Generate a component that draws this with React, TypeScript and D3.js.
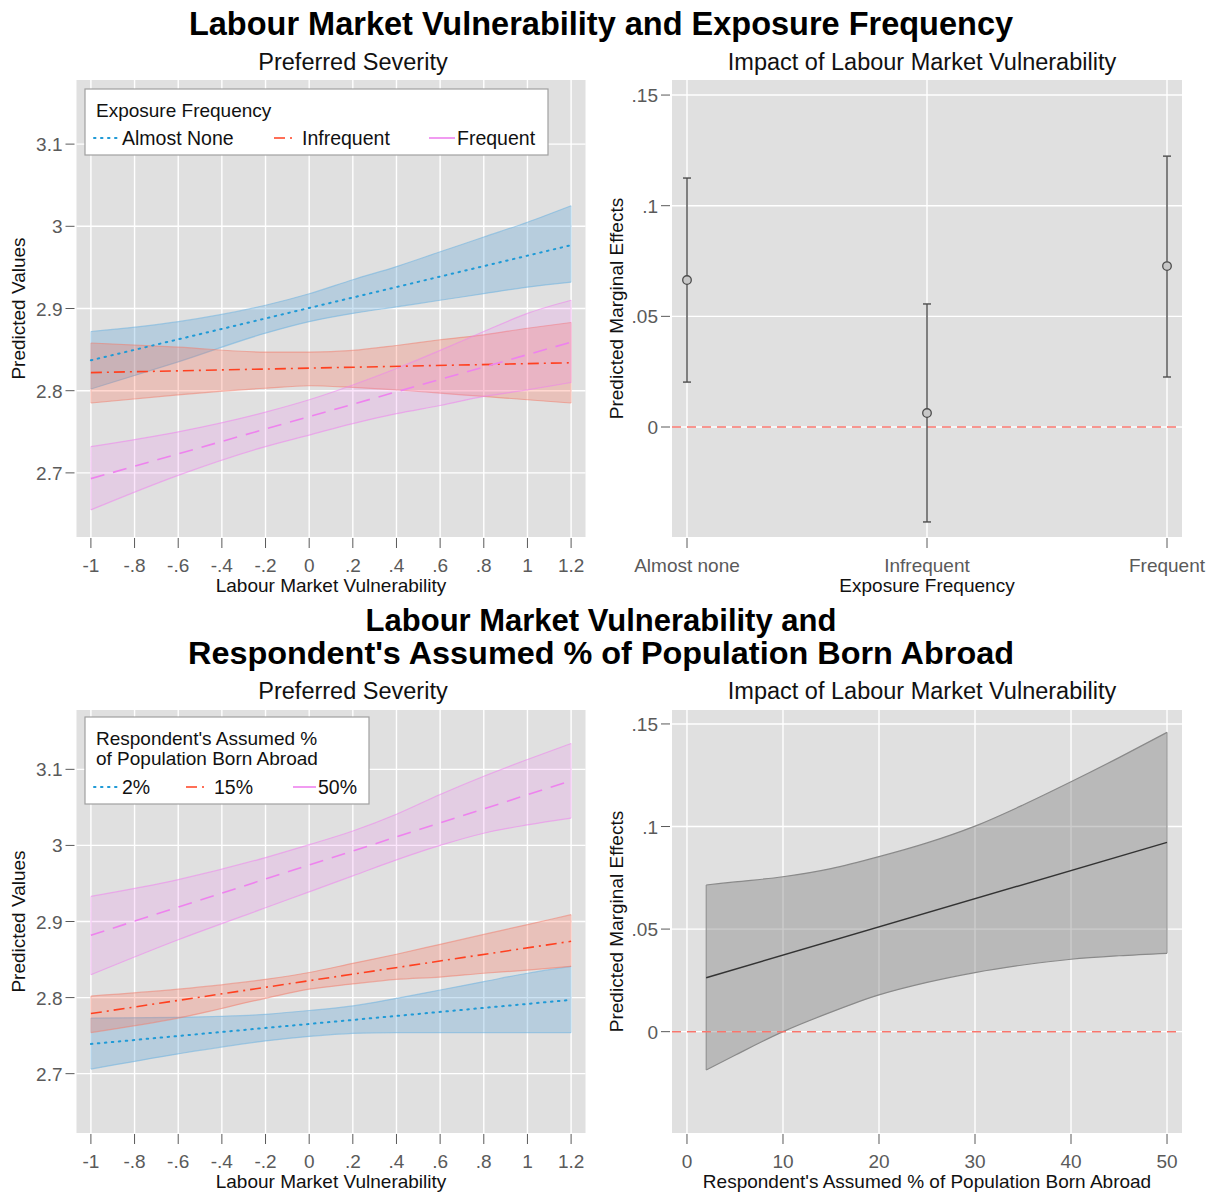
import { useEffect, useRef } from "react";
import * as d3 from "d3";

// x positions of the band samples (Labour Market Vulnerability)
const bandX = [-1, -0.6, -0.2, 0, 0.2, 0.4, 0.6, 0.8, 1, 1.2];
const lineX = [-1, 1.2];

const lmvTicks = [-1, -0.8, -0.6, -0.4, -0.2, 0, 0.2, 0.4, 0.6, 0.8, 1, 1.2];
const lmvTickLabels = ["-1", "-.8", "-.6", "-.4", "-.2", "0", ".2", ".4", ".6", ".8", "1", "1.2"];
const predTicks = [2.7, 2.8, 2.9, 3, 3.1];
const predTickLabels = ["2.7", "2.8", "2.9", "3", "3.1"];
const meTicks = [0, 0.05, 0.1, 0.15];
const meTickLabels = ["0", ".05", ".1", ".15"];

// panel 1: exposure frequency
const expLegend = ["Almost None", "Infrequent", "Frequent"];
const expNoneUpper = [2.872, 2.884, 2.904, 2.918, 2.935, 2.951, 2.969, 2.987, 3.005, 3.025];
const expNoneLower = [2.802, 2.835, 2.87, 2.884, 2.894, 2.902, 2.91, 2.918, 2.926, 2.932];
const expNoneLine = [2.837, 2.977];
const expInfUpper = [2.858, 2.853, 2.847, 2.847, 2.849, 2.855, 2.862, 2.868, 2.876, 2.883];
const expInfLower = [2.785, 2.795, 2.803, 2.806, 2.804, 2.801, 2.797, 2.793, 2.789, 2.785];
const expInfLine = [2.822, 2.834];
const expFreqUpper = [2.732, 2.75, 2.774, 2.789, 2.807, 2.827, 2.849, 2.872, 2.894, 2.91];
const expFreqLower = [2.655, 2.697, 2.732, 2.746, 2.76, 2.772, 2.782, 2.793, 2.801, 2.81];
const expFreqLine = [2.693, 2.859];

// panel 2: marginal effects by exposure frequency
const expCategories = ["Almost none", "Infrequent", "Frequent"];
const expEffect = [0.0664, 0.0063, 0.0727];
const expEffectLow = [0.0203, -0.0429, 0.0226];
const expEffectHigh = [0.1125, 0.0556, 0.1224];

// panel 3: assumed % born abroad
const abroadLegend = ["2%", "15%", "50%"];
const ab2Upper = [2.773, 2.774, 2.778, 2.783, 2.789, 2.799, 2.81, 2.821, 2.832, 2.841];
const ab2Lower = [2.706, 2.726, 2.743, 2.749, 2.753, 2.754, 2.754, 2.754, 2.754, 2.754];
const ab2Line = [2.739, 2.797];
const ab15Upper = [2.802, 2.811, 2.824, 2.833, 2.845, 2.857, 2.87, 2.883, 2.896, 2.909];
const ab15Lower = [2.754, 2.773, 2.799, 2.811, 2.818, 2.824, 2.827, 2.832, 2.836, 2.841];
const ab15Line = [2.779, 2.874];
const ab50Upper = [2.933, 2.955, 2.984, 3.001, 3.019, 3.041, 3.067, 3.091, 3.113, 3.134];
const ab50Lower = [2.83, 2.876, 2.918, 2.939, 2.96, 2.981, 3.0, 3.016, 3.027, 3.036];
const ab50Line = [2.882, 3.085];

// panel 4: marginal effect over assumed %
const pctX = [2, 5, 10, 15, 20, 25, 30, 35, 40, 45, 50];
const pctUpper = [0.0715, 0.073, 0.0755, 0.0795, 0.0853, 0.092, 0.1002, 0.1105, 0.1218, 0.1336, 0.1459];
const pctLower = [-0.0187, -0.0115, 0.0, 0.0095, 0.0179, 0.024, 0.0288, 0.0325, 0.0353, 0.037, 0.0382];
const pctLineX = [2, 50];
const pctLine = [0.0263, 0.0923];
const pctTicks = [0, 10, 20, 30, 40, 50];

const FONT = "'Liberation Sans', Arial, Helvetica, sans-serif";
const BG = "#e0e0e0";
const TICK_COL = "#5a5a5a";

const styles = [
  { color: "#1f9ad6", fill: "#5ba3d6", fillOp: 0.3, edge: "#6db3e0", dash: "1.5 5.5", cap: "round" },
  { color: "#ff4020", fill: "#ff6347", fillOp: 0.25, edge: "#f08070", dash: "11 5 2 5", cap: "butt" },
  { color: "#ee82ee", fill: "#ee82ee", fillOp: 0.2, edge: "#ee82ee", dash: "14 9", cap: "butt" },
];

type Box = { left: number; right: number; top: number; bottom: number };

function frame(g: any, box: Box, x: any, y: any, xt: number[], yt: number[]) {
  g.append("rect")
    .attr("x", box.left).attr("y", box.top)
    .attr("width", box.right - box.left).attr("height", box.bottom - box.top)
    .attr("fill", BG);
  xt.forEach((t) => {
    g.append("line").attr("x1", x(t)).attr("x2", x(t)).attr("y1", box.top).attr("y2", box.bottom)
      .attr("stroke", "#fff").attr("stroke-width", 1.4);
  });
  yt.forEach((t) => {
    g.append("line").attr("x1", box.left).attr("x2", box.right).attr("y1", y(t)).attr("y2", y(t))
      .attr("stroke", "#fff").attr("stroke-width", 1.4);
  });
}

function axes(g: any, box: Box, x: any, y: any, xt: number[], xl: string[], yt: number[], yl: string[], xTitle: string, yTitle: string, yTitleX: number) {
  xt.forEach((t, i) => {
    g.append("line").attr("x1", x(t)).attr("x2", x(t)).attr("y1", box.bottom + 1).attr("y2", box.bottom + 11)
      .attr("stroke", TICK_COL).attr("stroke-width", 1);
    g.append("text").attr("x", x(t)).attr("y", box.bottom + 35).attr("text-anchor", "middle")
      .attr("font-size", 19).attr("fill", TICK_COL).text(xl[i]);
  });
  yt.forEach((t, i) => {
    g.append("line").attr("x1", box.left - 11).attr("x2", box.left - 2).attr("y1", y(t)).attr("y2", y(t))
      .attr("stroke", TICK_COL).attr("stroke-width", 1);
    g.append("text").attr("x", box.left - 14).attr("y", y(t) + 7).attr("text-anchor", "end")
      .attr("font-size", 19).attr("fill", TICK_COL).text(yl[i]);
  });
  g.append("text").attr("x", (box.left + box.right) / 2).attr("y", box.bottom + 55)
    .attr("text-anchor", "middle").attr("font-size", 19).attr("fill", "#111").text(xTitle);
  const cy = (box.top + box.bottom) / 2;
  g.append("text").attr("transform", `translate(${yTitleX},${cy}) rotate(-90)`)
    .attr("text-anchor", "middle").attr("font-size", 19).attr("fill", "#111").text(yTitle);
}

function predPanel(g: any, box: Box, series: { upper: number[]; lower: number[]; line: number[] }[], legendTitle: string[], legendLabels: string[], legendBox: Box, keyPos: number[][]) {
  const x = d3.scaleLinear().domain([-1.066, 1.266]).range([box.left, box.right]);
  const y = d3.scaleLinear().domain([2.622, 3.178]).range([box.bottom, box.top]);
  frame(g, box, x, y, lmvTicks, predTicks);

  const edge = d3.line<number>().x((_, i) => x(bandX[i])).y((d) => y(d)).curve(d3.curveMonotoneX);
  series.forEach((s, k) => {
    const st = styles[k];
    const area = d3.area<number>().x((_, i) => x(bandX[i])).y0((_, i) => y(s.lower[i])).y1((d) => y(d)).curve(d3.curveMonotoneX);
    g.append("path").attr("d", area(s.upper)).attr("fill", st.fill).attr("fill-opacity", st.fillOp).attr("stroke", "none");
    [s.upper, s.lower].forEach((arr) => {
      g.append("path").attr("d", edge(arr)).attr("fill", "none").attr("stroke", st.edge)
        .attr("stroke-opacity", 0.55).attr("stroke-width", 1.2);
    });
    [0, bandX.length - 1].forEach((i) => {
      g.append("line").attr("x1", x(bandX[i])).attr("x2", x(bandX[i])).attr("y1", y(s.upper[i])).attr("y2", y(s.lower[i]))
        .attr("stroke", st.edge).attr("stroke-opacity", 0.4).attr("stroke-width", 1);
    });
  });
  series.forEach((s, k) => {
    const st = styles[k];
    const ln = d3.line<number>().x((_, i) => x(lineX[i])).y((d) => y(d));
    g.append("path").attr("d", ln(s.line)).attr("fill", "none").attr("stroke", st.color)
      .attr("stroke-width", st.cap === "round" ? 2 : 1.6).attr("stroke-dasharray", st.dash)
      .attr("stroke-linecap", st.cap);
  });

  axes(g, box, x, y, lmvTicks, lmvTickLabels, predTicks, predTickLabels, "Labour Market Vulnerability", "Predicted Values", 25);

  // legend
  g.append("rect").attr("x", legendBox.left).attr("y", legendBox.top)
    .attr("width", legendBox.right - legendBox.left).attr("height", legendBox.bottom - legendBox.top)
    .attr("fill", "#fff").attr("stroke", "#a0a0a0").attr("stroke-width", 1.2);
  legendTitle.forEach((t, i) => {
    g.append("text").attr("x", legendBox.left + 11).attr("y", legendBox.top + 28 + i * 20)
      .attr("font-size", 19).attr("fill", "#111").text(t);
  });
  const itemY = legendBox.bottom - 17;
  legendLabels.forEach((lab, k) => {
    const st = styles[k];
    const [k0, k1, tx] = keyPos[k];
    g.append("line").attr("x1", k0).attr("x2", k1).attr("y1", itemY).attr("y2", itemY)
      .attr("stroke", st.color).attr("stroke-width", st.cap === "round" ? 2 : 1.6)
      .attr("stroke-dasharray", k === 2 ? null : st.dash).attr("stroke-linecap", st.cap);
    g.append("text").attr("x", tx).attr("y", itemY + 7).attr("font-size", 19.5).attr("fill", "#111").text(lab);
  });
}

export default function App() {
  const ref = useRef<SVGSVGElement>(null);

  useEffect(() => {
    if (!ref.current) return;
    const svg = d3.select(ref.current);
    svg.selectAll("*").remove();
    const g = svg.append("g").attr("font-family", FONT);

    const topL: Box = { left: 76.5, right: 585.5, top: 80, bottom: 537 };
    const topR: Box = { left: 672, right: 1182, top: 80, bottom: 537 };
    const botL: Box = { left: 76.5, right: 585.5, top: 710, bottom: 1133 };
    const botR: Box = { left: 672, right: 1182, top: 710, bottom: 1133 };

    // titles
    g.append("text").attr("x", 601).attr("y", 35).attr("text-anchor", "middle").attr("font-size", 32.5)
      .attr("font-weight", "bold").text("Labour Market Vulnerability and Exposure Frequency");
    g.append("text").attr("x", 601).attr("y", 631).attr("text-anchor", "middle").attr("font-size", 31)
      .attr("font-weight", "bold").text("Labour Market Vulnerability and");
    g.append("text").attr("x", 601).attr("y", 664).attr("text-anchor", "middle").attr("font-size", 31)
      .attr("font-weight", "bold").attr("textLength", 826).attr("lengthAdjust", "spacingAndGlyphs")
      .text("Respondent's Assumed % of Population Born Abroad");
    [[353, 70, "Preferred Severity"], [922, 70, "Impact of Labour Market Vulnerability"],
     [353, 699, "Preferred Severity"], [922, 699, "Impact of Labour Market Vulnerability"]].forEach(([px, py, t]) => {
      g.append("text").attr("x", px).attr("y", py).attr("text-anchor", "middle").attr("font-size", 23.5)
        .attr("fill", "#111").text(t as string);
    });

    // top left
    predPanel(g, topL,
      [
        { upper: expNoneUpper, lower: expNoneLower, line: expNoneLine },
        { upper: expInfUpper, lower: expInfLower, line: expInfLine },
        { upper: expFreqUpper, lower: expFreqLower, line: expFreqLine },
      ],
      ["Exposure Frequency"], expLegend,
      { left: 85, right: 548, top: 89, bottom: 155 },
      [[94, 117, 122], [274, 297, 302], [429, 455, 457]]);

    // bottom left
    predPanel(g, botL,
      [
        { upper: ab2Upper, lower: ab2Lower, line: ab2Line },
        { upper: ab15Upper, lower: ab15Lower, line: ab15Line },
        { upper: ab50Upper, lower: ab50Lower, line: ab50Line },
      ],
      ["Respondent's Assumed %", "of Population Born Abroad"], abroadLegend,
      { left: 85, right: 369, top: 717, bottom: 804 },
      [[94, 118, 122], [186, 209, 214], [293, 316, 318]]);

    // top right: error bars
    {
      const x = d3.scaleLinear().domain([-0.0625, 2.0625]).range([topR.left, topR.right]);
      const y = d3.scaleLinear().domain([-0.0497, 0.1568]).range([topR.bottom, topR.top]);
      const idx = expCategories.map((_, i) => i);
      frame(g, topR, x, y, idx, meTicks);
      g.append("line").attr("x1", topR.left).attr("x2", topR.right).attr("y1", y(0)).attr("y2", y(0))
        .attr("stroke", "#f8766d").attr("stroke-width", 1.5).attr("stroke-dasharray", "9 6");
      idx.forEach((i) => {
        const cx = x(i);
        g.append("line").attr("x1", cx).attr("x2", cx).attr("y1", y(expEffectHigh[i])).attr("y2", y(expEffectLow[i]))
          .attr("stroke", "#4d4d4d").attr("stroke-width", 1.4);
        [expEffectHigh[i], expEffectLow[i]].forEach((v) => {
          g.append("line").attr("x1", cx - 4).attr("x2", cx + 4).attr("y1", y(v)).attr("y2", y(v))
            .attr("stroke", "#4d4d4d").attr("stroke-width", 1.4);
        });
        g.append("circle").attr("cx", cx).attr("cy", y(expEffect[i])).attr("r", 4.3)
          .attr("fill", "#c8c8c8").attr("stroke", "#4d4d4d").attr("stroke-width", 1.3);
      });
      axes(g, topR, x, y, idx, expCategories, meTicks, meTickLabels, "Exposure Frequency", "Predicted Marginal Effects", 623);
    }

    // bottom right: ribbon
    {
      const x = d3.scaleLinear().domain([-1.56, 51.56]).range([botR.left, botR.right]);
      const y = d3.scaleLinear().domain([-0.0494, 0.1568]).range([botR.bottom, botR.top]);
      frame(g, botR, x, y, pctTicks, meTicks);
      const area = d3.area<number>().x((d) => x(d)).y0((_, i) => y(pctLower[i])).y1((_, i) => y(pctUpper[i])).curve(d3.curveMonotoneX);
      g.append("path").attr("d", area(pctX)).attr("fill", "#808080").attr("fill-opacity", 0.4);
      const edge = d3.line<number>().x((_, i) => x(pctX[i])).y((d) => y(d)).curve(d3.curveMonotoneX);
      [pctUpper, pctLower].forEach((arr) => {
        g.append("path").attr("d", edge(arr)).attr("fill", "none").attr("stroke", "#8a8a8a").attr("stroke-width", 1.2);
      });
      const last = pctX.length - 1;
      [0, last].forEach((i) => {
        g.append("line").attr("x1", x(pctX[i])).attr("x2", x(pctX[i])).attr("y1", y(pctUpper[i])).attr("y2", y(pctLower[i]))
          .attr("stroke", "#8a8a8a").attr("stroke-width", 1);
      });
      g.append("line").attr("x1", botR.left).attr("x2", botR.right).attr("y1", y(0)).attr("y2", y(0))
        .attr("stroke", "#f8766d").attr("stroke-width", 1.5).attr("stroke-dasharray", "9 6");
      const ln = d3.line<number>().x((_, i) => x(pctLineX[i])).y((d) => y(d));
      g.append("path").attr("d", ln(pctLine)).attr("fill", "none").attr("stroke", "#333").attr("stroke-width", 1.4);
      axes(g, botR, x, y, pctTicks, pctTicks.map(String), meTicks, meTickLabels,
        "Respondent's Assumed % of Population Born Abroad", "Predicted Marginal Effects", 623);
    }
  }, []);

  return (
    <svg
      ref={ref}
      width={1217}
      height={1192}
      style={{ position: "absolute", left: 0, top: 0, background: "#fff" }}
    />
  );
}
